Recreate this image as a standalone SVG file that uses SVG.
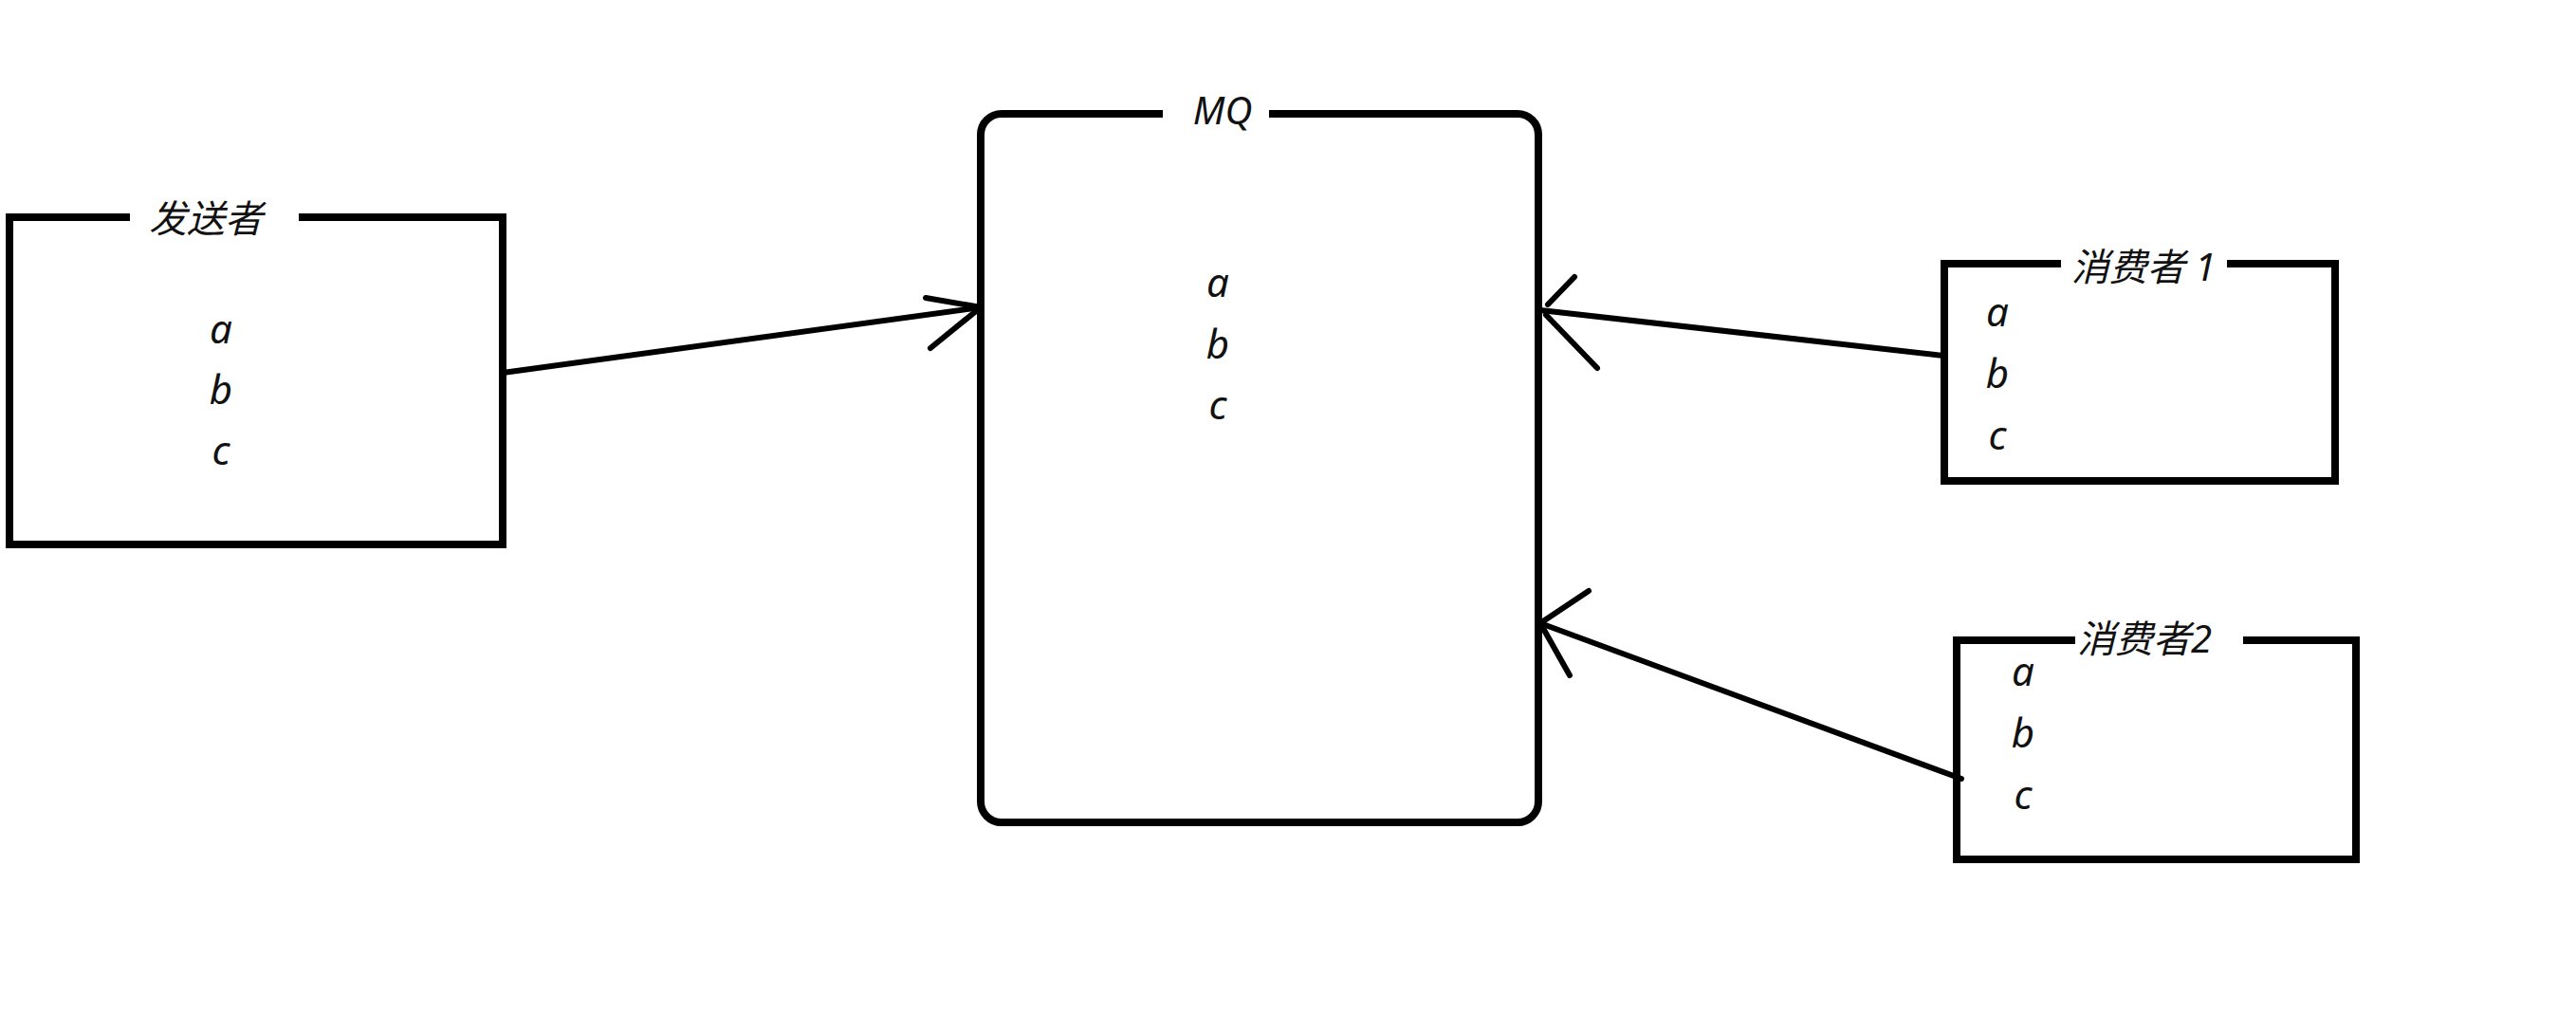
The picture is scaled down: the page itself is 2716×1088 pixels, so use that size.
<svg xmlns="http://www.w3.org/2000/svg" width="2716" height="1088" viewBox="0 0 2716 1088">
<style>
.box{fill:none;stroke:#000;stroke-width:8;stroke-linejoin:miter}
.conn{fill:none;stroke:#000;stroke-width:6;stroke-linecap:round;stroke-linejoin:round}
.t{font-family:"Noto Sans","Noto Sans CJK SC",sans-serif;font-style:italic;font-size:40px;fill:#111;text-anchor:middle}
.l{font-size:42px}
</style>
<rect width="2716" height="1088" fill="#fff"/>
<g id="sender">
<path class="box" d="M137,229 H10 V574 H530 V229 H315"/>
<text class="t" x="217" y="245">发送者</text>
<text class="t l" x="233" y="362">a</text>
<text class="t l" x="233" y="426">b</text>
<text class="t l" x="233" y="490">c</text>
</g>
<g id="mq">
<path class="box" d="M1226,120 H1056 A22,22 0 0 0 1034,142 V845 A22,22 0 0 0 1056,867 H1600 A22,22 0 0 0 1622,845 V142 A22,22 0 0 0 1600,120 H1338"/>
<text class="t" x="1289" y="131">MQ</text>
<text class="t l" x="1284" y="313">a</text>
<text class="t l" x="1284" y="378">b</text>
<text class="t l" x="1284" y="442">c</text>
</g>
<g id="consumer1">
<path class="box" d="M2173,278 H2050 V507 H2462 V278 H2348"/>
<text class="t" x="2260" y="296">消费者 1</text>
<text class="t l" x="2106" y="344">a</text>
<text class="t l" x="2106" y="409">b</text>
<text class="t l" x="2106" y="474">c</text>
</g>
<g id="consumer2">
<path class="box" d="M2188,675 H2063 V906 H2484 V675 H2365"/>
<text class="t" x="2261" y="688">消费者2</text>
<text class="t l" x="2133" y="723">a</text>
<text class="t l" x="2133" y="788">b</text>
<text class="t l" x="2133" y="853">c</text>
</g>
<g id="connectors">
<path class="conn" d="M530,393 L1034,324"/>
<path class="conn" d="M976,314 L1034,324 L981,367"/>
<path class="conn" d="M2049,375 L1624,327"/>
<path class="conn" d="M1660,292 L1632,321"/>
<path class="conn" d="M1630,332 L1684,388"/>
<path class="conn" d="M2068,821 L1624,657"/>
<path class="conn" d="M1675,623 L1624,657 L1655,712"/>
</g>
</svg>
